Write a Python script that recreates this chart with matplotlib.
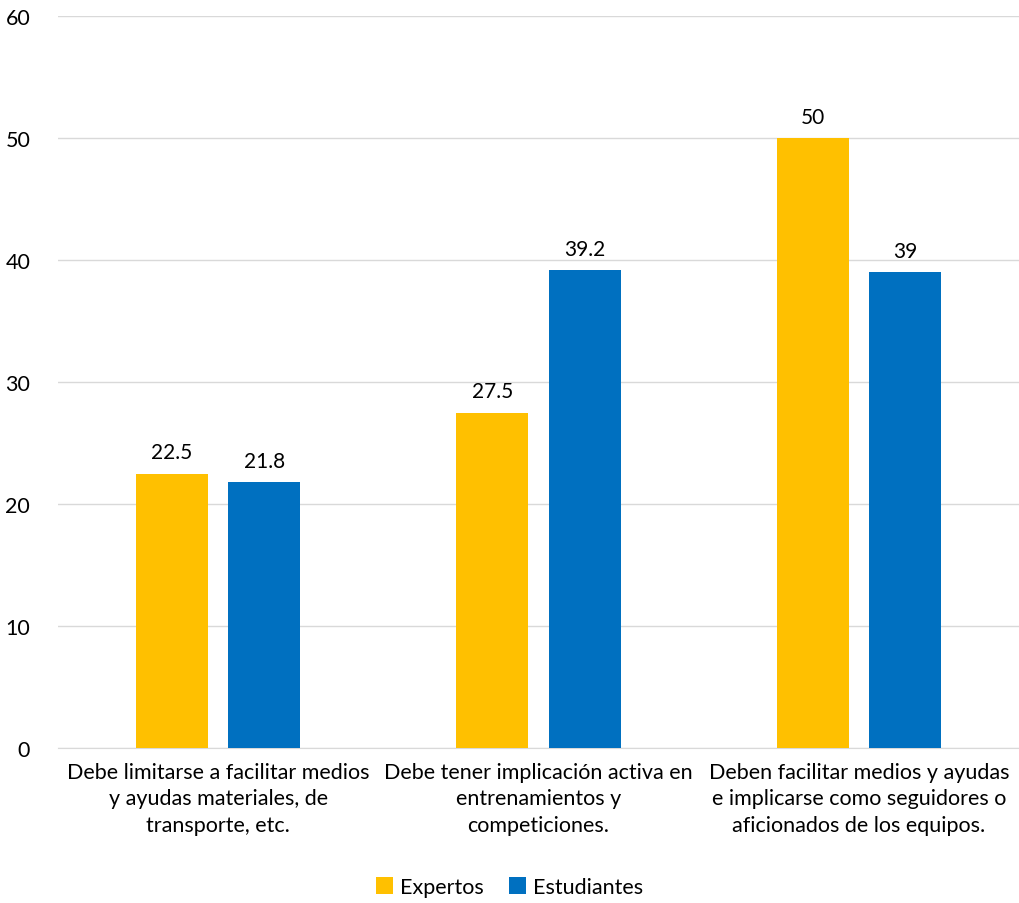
import matplotlib.pyplot as plt
import numpy as np

plt.rcParams['font.family'] = ['Lato', 'DejaVu Sans']

categories = [
    "Debe limitarse a facilitar medios\ny ayudas materiales, de\ntransporte, etc.",
    "Debe tener implicación activa en\nentrenamientos y\ncompeticiones.",
    "Deben facilitar medios y ayudas\ne implicarse como seguidores o\naficionados de los equipos.",
]
expertos = [22.5, 27.5, 50]
estudiantes = [21.8, 39.2, 39]
expertos_labels = ["22.5", "27.5", "50"]
estudiantes_labels = ["21.8", "39.2", "39"]

fig = plt.figure(figsize=(10.19, 9.04), dpi=100)
ax = fig.add_axes([58 / 1019, 1 - 749 / 904, 961 / 1019, (749 - 17) / 904])

x = np.arange(len(categories))
w = 0.225
off = 0.144

b1 = ax.bar(x - off, expertos, w, color="#FFC000", label="Expertos", zorder=3)
b2 = ax.bar(x + off, estudiantes, w, color="#0070C0", label="Estudiantes", zorder=3)

for bars, labs in [(b1, expertos_labels), (b2, estudiantes_labels)]:
    for bar, lab in zip(bars, labs):
        ax.annotate(lab, (bar.get_x() + bar.get_width() / 2, bar.get_height()),
                    xytext=(0, 8), textcoords="offset points",
                    ha="center", va="bottom", fontsize=15, color="#000000")

ax.set_xlim(-0.5, 2.5)
ax.set_ylim(0, 60)
ax.set_yticks(range(0, 61, 10))
ax.yaxis.grid(True, color="#D9D9D9", linewidth=1, zorder=0)
ax.set_xticks(x)
ax.set_xticklabels(categories, fontsize=15.5, linespacing=1.4)
ax.tick_params(axis="both", length=0, labelsize=15.5, pad=10)
ax.tick_params(axis="y", pad=20)
for s in ["top", "right", "left"]:
    ax.spines[s].set_visible(False)
ax.spines["bottom"].set_color("#D9D9D9")

fig.legend(handles=[b1, b2], loc="center", bbox_to_anchor=(0.5, 1 - 888 / 904),
           ncol=2, frameon=False, fontsize=15.5, handlelength=0.8,
           handleheight=0.8, handletextpad=0.3, columnspacing=1.2)

fig.savefig("out.png", dpi=100)
